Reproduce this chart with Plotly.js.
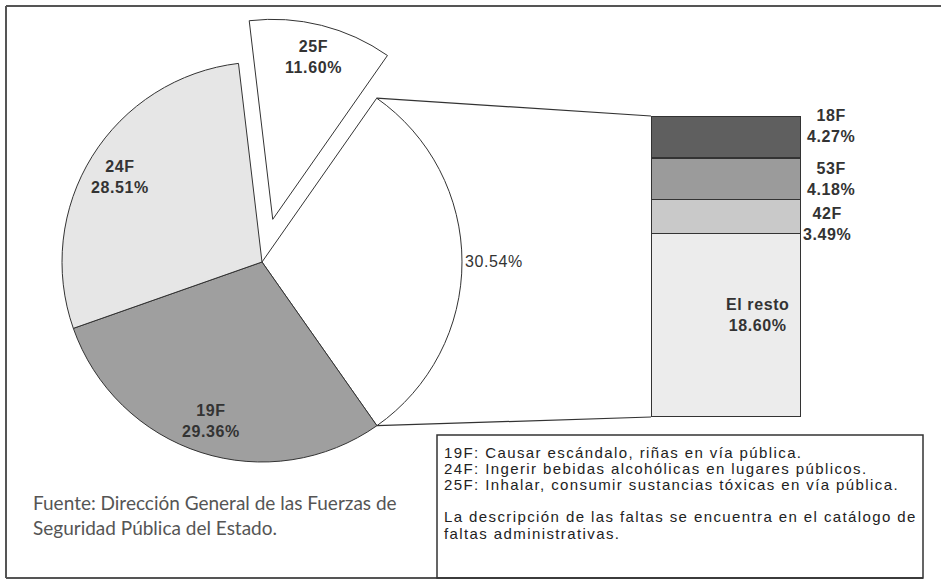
<!DOCTYPE html>
<html>
<head>
<meta charset="utf-8">
<script src="https://cdn.plot.ly/plotly-3.0.1.min.js"></script>
<style>
html,body{margin:0;padding:0;background:#fff;}
#chart{width:941px;height:584px;}
</style>
</head>
<body>
<div id="chart"></div>
<script>
// ---- data ----
const pieLabels = ['Resto', '19F', '24F', '25F'];
const pieValues = [30.54, 29.36, 28.51, 11.60];
const piePull = [0, 0, 0, 0.22];
const barLabels = ['18F', '53F', '42F', 'El resto'];
const barValues = [4.27, 4.18, 3.49, 18.60];
const notes = [
  '19F: Causar escándalo, riñas en vía pública.',
  '24F: Ingerir bebidas alcohólicas en lugares públicos.',
  '25F: Inhalar, consumir sustancias tóxicas en vía pública.',
  '',
  'La descripción de las faltas se encuentra en el catálogo de',
  'faltas administrativas.'
];
const sourceLines = [
  'Fuente: Dirección General de las Fuerzas de',
  'Seguridad Pública del Estado.'
];

// ---- geometry (pixels) ----
const W = 941, H = 584;
const CX = 262, CY = 262, R = 200;
const ROT = 35;
const maxPull = Math.max(...piePull);
const half = R * (1 + maxPull);
const BX0 = 651, BX1 = 801, BY0 = 116, BY1 = 417;

const px = x => x / W;
const py = y => 1 - y / H;

const pieColors = ['#ffffff', '#9f9f9f', '#e6e6e6', '#ffffff'];
const barColors = ['#5f5f5f', '#9b9b9b', '#c9c9c9', '#ececec'];

const pieTrace = {
  type: 'pie',
  labels: pieLabels,
  values: pieValues,
  pull: piePull,
  sort: false,
  direction: 'clockwise',
  rotation: ROT,
  textinfo: 'none',
  hoverinfo: 'label+value',
  showlegend: false,
  marker: {colors: pieColors, line: {color: '#333', width: 1}},
  domain: {x: [px(CX - half - 10), px(CX + half + 10)], y: [py(CY + half), py(CY - half)]}
};

const barTotal = barValues.reduce((a, b) => a + b, 0);
const barTraces = [];
for (let i = barValues.length - 1; i >= 0; i--) {
  barTraces.push({
    type: 'bar', x: [0], y: [barValues[i]], width: [1], name: barLabels[i],
    marker: {color: barColors[i], line: {color: '#333', width: 1.2}},
    cliponaxis: false,
    showlegend: false, hoverinfo: 'name+y'
  });
}

const pieTotal = pieValues.reduce((a, b) => a + b, 0);
const deg = Math.PI / 180;
const annotations = [];
const shapes = [];
const boldFont = {family: 'Liberation Sans, Arial, sans-serif', size: 16, color: '#333'};
const sp = (t, s) => '<span style="letter-spacing:' + s + 'px">' + t + '</span>';

let cum = 0;
pieValues.forEach((v, i) => {
  const a0 = ROT + cum / pieTotal * 360;
  const a1 = ROT + (cum + v) / pieTotal * 360;
  const mid = (a0 + a1) / 2 * deg;
  const ox = CX + piePull[i] * R * Math.sin(mid);
  const oy = CY - piePull[i] * R * Math.cos(mid);
  if (i === 0) {
    annotations.push({
      xref: 'paper', yref: 'paper',
      x: px(ox + (R + 1) * Math.sin(mid)), y: py(oy - (R + 1) * Math.cos(mid)),
      xanchor: 'left', yanchor: 'middle', showarrow: false,
      text: sp(v.toFixed(2) + '%', 0.6),
      font: {family: 'Liberation Sans, Arial, sans-serif', size: 16, color: '#333'}
    });
    shapes.push({type: 'line', xref: 'paper', yref: 'paper', x0: px(ox + R * Math.sin(a0 * deg)), y0: py(oy - R * Math.cos(a0 * deg)), x1: px(BX0), y1: py(BY0), line: {color: '#333', width: 1.2}});
    shapes.push({type: 'line', xref: 'paper', yref: 'paper', x0: px(ox + R * Math.sin(a1 * deg)), y0: py(oy - R * Math.cos(a1 * deg)), x1: px(BX0), y1: py(BY1), line: {color: '#333', width: 1.2}});
  } else {
    const rr = 0.835 * R;
    annotations.push({
      xref: 'paper', yref: 'paper',
      x: px(ox + rr * Math.sin(mid)), y: py(oy - rr * Math.cos(mid)), yshift: i === 2 ? -3 : 0,
      xanchor: 'center', yanchor: 'middle', showarrow: false,
      text: sp('<b>' + pieLabels[i] + '</b>', 0.6) + '<br>' + sp('<b>' + v.toFixed(2) + '%</b>', 0.6),
      font: boldFont
    });
  }
  cum += v;
});

// bar labels
const labelShiftY = [11, 0, -8];
let stackTop = barTotal;
barValues.forEach((v, i) => {
  const midV = stackTop - v / 2;
  stackTop -= v;
  if (i === barValues.length - 1) {
    annotations.push({
      xref: 'paper', yref: 'y', x: px(758), y: midV, yshift: 10,
      xanchor: 'center', yanchor: 'middle', showarrow: false,
      text: sp('<b>' + barLabels[i] + '</b>', 0.6) + '<br>' + sp('<b>' + v.toFixed(2) + '%</b>', 0.6),
      font: boldFont
    });
  } else {
    annotations.push({
      xref: 'paper', yref: 'y', x: px(831), y: midV, yshift: labelShiftY[i], xshift: i === 2 ? -4 : 0,
      xanchor: 'center', yanchor: 'middle', showarrow: false,
      text: sp('<b>' + barLabels[i] + '</b>', 0.6) + '<br>' + sp('<b>' + v.toFixed(2) + '%</b>', 0.6),
      font: boldFont
    });
  }
});

// notes box text
notes.forEach((t, i) => {
  if (!t) return;
  annotations.push({
    xref: 'paper', yref: 'paper', x: px(442), y: py(452 + i * 16.2),
    xanchor: 'left', yanchor: 'middle', showarrow: false,
    text: sp(t, 1.4),
    font: {family: 'Liberation Sans, Arial, sans-serif', size: 15, color: '#222'}
  });
});

// source text
sourceLines.forEach((t, i) => {
  annotations.push({
    xref: 'paper', yref: 'paper', x: px(31), y: py(502 + i * 25),
    xanchor: 'left', yanchor: 'middle', showarrow: false,
    text: t,
    font: {family: 'Lato, sans-serif', size: 19, color: '#555'}
  });
});

// frame and box
shapes.push({type: 'line', xref: 'paper', yref: 'paper', x0: px(6), y0: py(6), x1: px(941), y1: py(6), line: {color: '#555', width: 2}});
shapes.push({type: 'line', xref: 'paper', yref: 'paper', x0: px(6), y0: py(6), x1: px(6), y1: py(578), line: {color: '#555', width: 2}});
shapes.push({type: 'line', xref: 'paper', yref: 'paper', x0: px(6), y0: py(578), x1: px(923), y1: py(578), line: {color: '#555', width: 2}});
shapes.push({type: 'rect', xref: 'paper', yref: 'paper', x0: px(437), y0: py(435), x1: px(923), y1: py(578), line: {color: '#333', width: 1.5}});

const layout = {
  width: W, height: H,
  margin: {l: 0, r: 0, t: 0, b: 0, pad: 0},
  paper_bgcolor: '#fff', plot_bgcolor: 'rgba(0,0,0,0)',
  showlegend: false,
  barmode: 'stack',
  xaxis: {domain: [px(BX0), px(BX1)], range: [-0.5, 0.5], visible: false, fixedrange: true},
  yaxis: {domain: [py(BY1), py(BY0)], range: [0, barTotal], visible: false, fixedrange: true},
  annotations: annotations,
  shapes: shapes
};

Plotly.newPlot('chart', [pieTrace, ...barTraces], layout, {displayModeBar: false, staticPlot: true});
</script>
</body>
</html>
